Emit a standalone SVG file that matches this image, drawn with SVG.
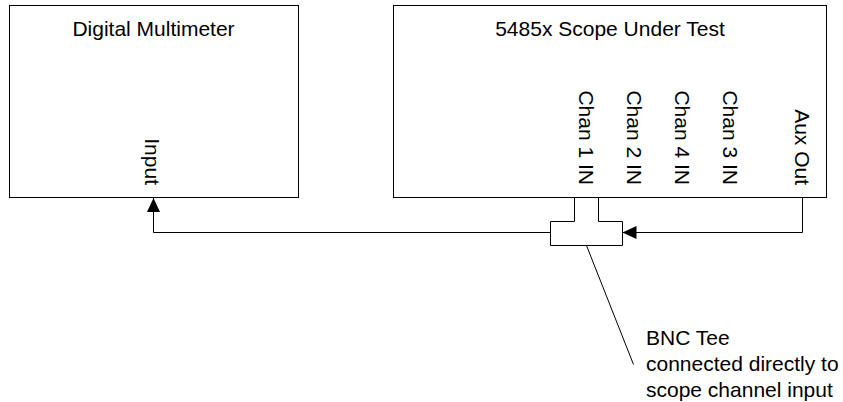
<svg xmlns="http://www.w3.org/2000/svg" width="843" height="402" viewBox="0 0 843 402">
<style>
.box{fill:#fff;stroke:#000;stroke-width:1}
.ln{fill:none;stroke:#000;stroke-width:1}
text{font-family:"Liberation Sans",Arial,sans-serif;font-size:21px;fill:#000}
.mid{text-anchor:middle}
.end{text-anchor:end}
</style>
<defs>
<marker id="arr" viewBox="0 0 14 13" refX="14" refY="6.5" markerWidth="14" markerHeight="13" markerUnits="userSpaceOnUse" orient="auto">
<path d="M0,0 L14,6.5 L0,13 z" fill="#000"/>
</marker>
</defs>
<g id="multimeter">
<rect class="box" x="9.5" y="5.5" width="289" height="192"/>
<text class="mid" x="153.5" y="36">Digital Multimeter</text>
<text class="end" transform="translate(145,185) rotate(90)">Input</text>
</g>
<g id="scope">
<rect class="box" x="393.5" y="5.5" width="433" height="192"/>
<text class="mid" x="610" y="36">5485x Scope Under Test</text>
<text class="end" transform="translate(579,185) rotate(90)">Chan 1 IN</text>
<text class="end" transform="translate(627,185) rotate(90)">Chan 2 IN</text>
<text class="end" transform="translate(675,185) rotate(90)">Chan 4 IN</text>
<text class="end" transform="translate(723,185) rotate(90)">Chan 3 IN</text>
<text class="end" transform="translate(795,185) rotate(90)">Aux Out</text>
</g>
<g id="bnc-tee">
<path class="box" d="M550.5,221.5 H574.5 V197.5 H598.5 V221.5 H622.5 V245.5 H550.5 Z"/>
<path class="ln" d="M575,197.5 H598" stroke="#fff"/>
</g>
<g id="note">
<text x="646" y="345">BNC Tee</text>
<text x="646" y="371">connected directly to</text>
<text x="646" y="397">scope channel input</text>
</g>
<g id="connectors">
<path class="ln" d="M550,232.5 H153.5 V198" marker-end="url(#arr)"/>
<path class="ln" d="M802.5,197.5 V232.5 H622.5" marker-end="url(#arr)"/>
<path class="ln" d="M586.5,245.5 L633.5,364.5"/>
</g>
</svg>
